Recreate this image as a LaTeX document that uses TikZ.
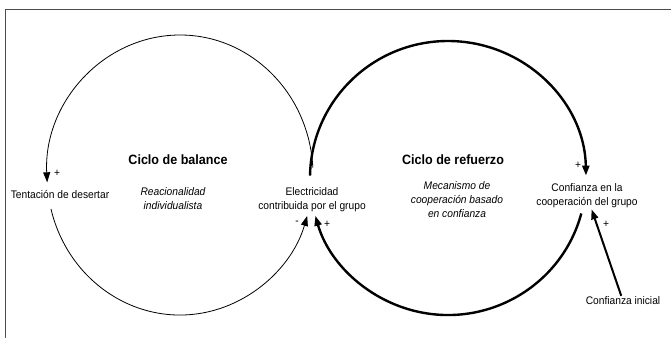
\documentclass[tikz,border=0pt]{standalone}
\usepackage{fontspec}
\setmainfont{Liberation Sans}[FakeStretch=0.93]
\usetikzlibrary{arrows.meta,calc}

\tikzset{thinloop/.style={line width=0.8pt,-{Triangle[length=10pt,width=7pt]}},
  thickloop/.style={line width=2.4pt,-{Triangle[length=10pt,width=7pt]}},
  lbl/.style={font=\fontsize{11}{14}\selectfont,align=center,inner sep=1pt},
  sign/.style={font=\fontsize{11}{12}\selectfont,inner sep=0pt}}

\begin{document}
\begin{tikzpicture}[x=1pt,y=1pt]
        \useasboundingbox (0,0) rectangle (671,338);
        \draw[gray!60!black,line width=1pt] (5,0) -- (5,328) -- (671,328);
        % centres of the two loops
        \coordinate (lc) at (180,163);
        \coordinate (rc) at (448,160);
        % texts
        \node[lbl] (tent) at (60,143) {Tentación de desertar};
        \node[lbl] (elec) at (312,138) {Electricidad\\contribuida por el grupo};
        \node[lbl] (conf) at (587,142) {Confianza en la\\cooperación del grupo};
        \node[lbl] (ini) at (623,37) {Confianza inicial};
        \node[lbl,font=\bfseries\fontsize{13.5}{16}\selectfont] (bal) at (178,178) {Ciclo de balance};
        \node[lbl,font=\itshape\fontsize{11}{14}\selectfont] (razon) at (173,139) {Reacionalidad\\individualista};
        \node[lbl,font=\bfseries\fontsize{13.5}{16}\selectfont] (ref) at (453,178) {Ciclo de refuerzo};
        \node[lbl,font=\itshape\fontsize{11}{14}\selectfont] (mec) at (457,138) {Mecanismo de\\cooperación basado\\en confianza};
        % balance loop
        \draw[thinloop] ($(lc)+(3:133 and 140)$) arc[start angle=3,end angle=183,x radius=133,y radius=140];
        \draw[thinloop] ($(lc)+(194:133 and 140)$) arc[start angle=194,end angle=343,x radius=133,y radius=140];
        % reinforcing loop
        \draw[thickloop] ($(rc)+(179:138 and 137)$) arc[start angle=179,end angle=1,x radius=138,y radius=137];
        \draw[thickloop] ($(rc)+(-15:138 and 137)$) arc[start angle=-15,end angle=-164,x radius=138,y radius=137];
        \draw[line width=2pt,-{Triangle[length=10pt,width=7pt]}] (ini) -- (conf);
        % polarities
        \node[sign] (p1) at (57,165) {+};
        \node[sign] (m1) at (297,115) {-};
        \node[sign] (p2) at (327,114) {+};
        \node[sign] (p3) at (578,173) {+};
        \node[sign] (p4) at (606,114) {+};
    \end{tikzpicture}
\end{document}
